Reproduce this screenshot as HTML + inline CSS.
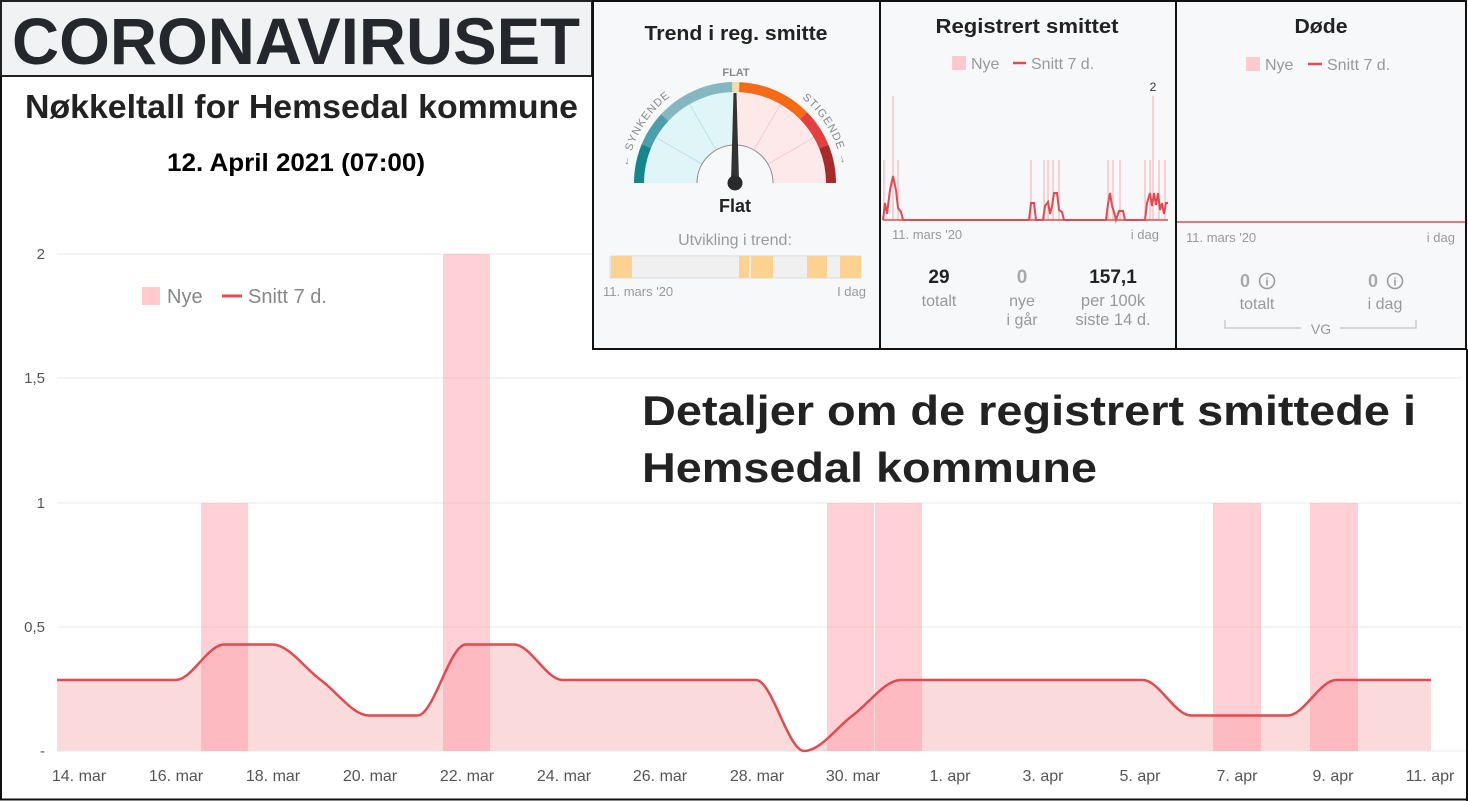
<!DOCTYPE html>
<html><head><meta charset="utf-8"><style>
html,body{margin:0;padding:0;background:#fff}
svg{display:block;font-family:"Liberation Sans",sans-serif}
</style></head><body>
<svg width="1468" height="801" viewBox="0 0 1468 801" xmlns="http://www.w3.org/2000/svg">
<rect x="0" y="0" width="1468" height="801" fill="#fff"/>
<!-- header -->
<rect x="1" y="1" width="591" height="75" fill="#f0f2f4" stroke="#222" stroke-width="2"/>
<text x="12" y="64" font-size="66" font-weight="bold" fill="#24272b" textLength="568" lengthAdjust="spacingAndGlyphs">CORONAVIRUSET</text>
<text x="25" y="118" font-size="33" font-weight="bold" fill="#222" textLength="553" lengthAdjust="spacingAndGlyphs">Nøkkeltall for Hemsedal kommune</text>
<text x="167" y="171" font-size="25" font-weight="bold" fill="#000" textLength="258" lengthAdjust="spacingAndGlyphs">12. April 2021 (07:00)</text>

<!-- main chart grid -->
<g stroke="#e8e8e8" stroke-width="1">
<line x1="57" y1="254" x2="1462" y2="254"/><line x1="57" y1="378" x2="1462" y2="378"/>
<line x1="57" y1="503" x2="1462" y2="503"/><line x1="57" y1="627" x2="1462" y2="627"/>
<line x1="57" y1="751" x2="1465" y2="751"/>
</g>
<g font-size="15" fill="#555" text-anchor="end">
<text x="45" y="259">2</text><text x="45" y="383">1,5</text><text x="45" y="508">1</text><text x="45" y="632">0,5</text><text x="45" y="756">-</text>
</g>
<!-- fill -->
<path d="M57,751 L57,680 L175.7,680 C191.8,680 207.9,644.5 224.05,644.5 L272.4,644.5 C288.5,644.5 304.6,668.2 320.75,680 C336.9,691.8 353,715.5 369.1,715.5 L417.45,715.5 C433.6,715.5 449.7,644.5 465.8,644.5 L514.15,644.5 C530.3,644.5 546.4,680 562.5,680 L755.9,680 C772,680 788.1,751 804.25,751 C820.4,751 836.5,727.3 852.6,715.5 C868.7,703.7 884.8,680 900.95,680 L1142.7,680 C1158.8,680 1174.9,715.5 1191.05,715.5 L1287.75,715.5 C1303.9,715.5 1320,680 1336.1,680 L1431,680 L1431,751 Z" fill="#fbdadb"/>
<!-- bars -->
<g fill="#ff8f9c" fill-opacity="0.42">
<rect x="201" y="503" width="47" height="248"/>
<rect x="443" y="254" width="47" height="497"/>
<rect x="827" y="503" width="47" height="248"/>
<rect x="875" y="503" width="47" height="248"/>
<rect x="1213" y="503" width="48" height="248"/>
<rect x="1310" y="503" width="48" height="248"/>
</g>
<path d="M57,680 L175.7,680 C191.8,680 207.9,644.5 224.05,644.5 L272.4,644.5 C288.5,644.5 304.6,668.2 320.75,680 C336.9,691.8 353,715.5 369.1,715.5 L417.45,715.5 C433.6,715.5 449.7,644.5 465.8,644.5 L514.15,644.5 C530.3,644.5 546.4,680 562.5,680 L755.9,680 C772,680 788.1,751 804.25,751 C820.4,751 836.5,727.3 852.6,715.5 C868.7,703.7 884.8,680 900.95,680 L1142.7,680 C1158.8,680 1174.9,715.5 1191.05,715.5 L1287.75,715.5 C1303.9,715.5 1320,680 1336.1,680 L1431,680" fill="none" stroke="#e24a4f" stroke-width="2.5"/>
<g font-size="16" fill="#555" text-anchor="middle">
<text x="79" y="781">14. mar</text><text x="176" y="781">16. mar</text><text x="273" y="781">18. mar</text><text x="370" y="781">20. mar</text><text x="467" y="781">22. mar</text><text x="564" y="781">24. mar</text><text x="660" y="781">26. mar</text><text x="757" y="781">28. mar</text><text x="853" y="781">30. mar</text><text x="950" y="781">1. apr</text><text x="1043" y="781">3. apr</text><text x="1140" y="781">5. apr</text><text x="1237" y="781">7. apr</text><text x="1333" y="781">9. apr</text><text x="1430" y="781">11. apr</text>
</g>
<!-- legend main -->
<rect x="142" y="287" width="18" height="18" fill="#ffc9ce"/>
<text x="167" y="303" font-size="20" fill="#888">Nye</text>
<line x1="222" y1="296" x2="242" y2="296" stroke="#e24a4f" stroke-width="3"/>
<text x="248" y="303" font-size="20" fill="#888">Snitt 7 d.</text>
<!-- big text -->
<text x="642" y="425" font-size="42" font-weight="bold" fill="#222" textLength="774" lengthAdjust="spacingAndGlyphs">Detaljer om de registrert smittede i</text>
<text x="642" y="482" font-size="42" font-weight="bold" fill="#222" textLength="455" lengthAdjust="spacingAndGlyphs">Hemsedal kommune</text>

<!-- top panels -->
<rect x="593" y="1" width="873" height="348" fill="#f7f8fa" stroke="#111" stroke-width="2"/>
<line x1="880" y1="0" x2="880" y2="349" stroke="#111" stroke-width="2"/>
<line x1="1176" y1="0" x2="1176" y2="349" stroke="#111" stroke-width="2"/>

<!-- panel 1 -->
<text x="736" y="40" font-size="20" font-weight="bold" fill="#222" text-anchor="middle" textLength="183" lengthAdjust="spacingAndGlyphs">Trend i reg. smitte</text>
<path d="M735,183 L644,183 A91,91 0 0 1 735,92 Z" fill="#dff5f8"/>
<path d="M735,183 L826,183 A91,91 0 0 0 735,92 Z" fill="#fde8ea"/>
<g stroke-width="0.8">
<line x1="768" y1="164" x2="814" y2="137.5" stroke="#f5c9cc"/>
<line x1="754" y1="150" x2="780.5" y2="104" stroke="#f5c9cc"/>
<line x1="702" y1="164" x2="656" y2="137.5" stroke="#b8dfe4"/>
<line x1="716" y1="150" x2="689.5" y2="104" stroke="#b8dfe4"/>
</g>
<path d="M697,183 A38,38 0 0 1 773,183" fill="#f7f8fa" stroke="#888" stroke-width="1"/>
<g fill="none" stroke-width="10">
<path d="M639,183 A96,96 0 0 1 831,183" stroke="#15858e" stroke-dasharray="38 1000"/>
<path d="M639,183 A96,96 0 0 1 831,183" stroke="#4c9faa" stroke-dasharray="34 1000" stroke-dashoffset="-38"/>
<path d="M639,183 A96,96 0 0 1 831,183" stroke="#84b7bf" stroke-dasharray="76 1000" stroke-dashoffset="-72"/>
<path d="M639,183 A96,96 0 0 1 831,183" stroke="#fcd9a8" stroke-dasharray="7 1000" stroke-dashoffset="-148"/>
<path d="M639,183 A96,96 0 0 1 831,183" stroke="#f56a16" stroke-dasharray="72 1000" stroke-dashoffset="-155"/>
<path d="M639,183 A96,96 0 0 1 831,183" stroke="#e43f3f" stroke-dasharray="37 1000" stroke-dashoffset="-227"/>
<path d="M639,183 A96,96 0 0 1 831,183" stroke="#a82a2a" stroke-dasharray="40 1000" stroke-dashoffset="-264"/>
</g>
<path id="garc" d="M627,183 A108,108 0 0 1 843,183" fill="none"/>
<text font-size="11" fill="#888" letter-spacing="1"><textPath href="#garc" startOffset="16">← SYNKENDE</textPath></text>
<text font-size="11" fill="#888" letter-spacing="1" text-anchor="end"><textPath href="#garc" startOffset="322">STIGENDE →</textPath></text>
<text x="736" y="76" font-size="11" font-weight="bold" fill="#888" text-anchor="middle">FLAT</text>
<polygon points="731,181 739,181 736.5,93 733.5,93" fill="#333"/>
<circle cx="735" cy="183" r="7.5" fill="#2a2a2a"/>
<text x="735" y="212" font-size="18" font-weight="bold" fill="#222" text-anchor="middle">Flat</text>
<text x="735" y="245" font-size="16" fill="#9a9a9a" text-anchor="middle">Utvikling i trend:</text>
<rect x="610" y="256" width="251" height="22" fill="#f0f0f0" stroke="#ddd"/>
<g fill="#fdd18f">
<rect x="611" y="256" width="21" height="22"/><rect x="739" y="256" width="10" height="22"/><rect x="751" y="256" width="22" height="22"/><rect x="807" y="256" width="20" height="22"/><rect x="840" y="256" width="21" height="22"/>
</g>
<text x="603" y="296" font-size="13" fill="#999">11. mars '20</text>
<text x="866" y="296" font-size="13" fill="#999" text-anchor="end">I dag</text>

<!-- panel 2 -->
<text x="1027" y="33" font-size="20" font-weight="bold" fill="#222" text-anchor="middle" textLength="183" lengthAdjust="spacingAndGlyphs">Registrert smittet</text>
<rect x="952" y="56" width="14" height="14" fill="#ffc9ce"/>
<text x="971" y="69" font-size="16" fill="#999">Nye</text>
<line x1="1013" y1="63" x2="1026" y2="63" stroke="#e24a4f" stroke-width="2.5"/>
<text x="1031" y="69" font-size="16" fill="#999">Snitt 7 d.</text>
<g stroke="#fbc3c8" stroke-width="1.5">
<line x1="884" y1="220" x2="884" y2="160"/><line x1="893" y1="220" x2="893" y2="96"/><line x1="898" y1="220" x2="898" y2="160"/>
<line x1="1031" y1="220" x2="1031" y2="160"/><line x1="1044" y1="220" x2="1044" y2="160"/><line x1="1048" y1="220" x2="1048" y2="160"/><line x1="1053" y1="220" x2="1053" y2="160"/><line x1="1059" y1="220" x2="1059" y2="160"/>
<line x1="1108" y1="220" x2="1108" y2="160"/><line x1="1113" y1="220" x2="1113" y2="160"/><line x1="1120" y1="220" x2="1120" y2="160"/>
<line x1="1145" y1="220" x2="1145" y2="160"/><line x1="1150" y1="220" x2="1150" y2="160"/><line x1="1153" y1="220" x2="1153" y2="96"/><line x1="1159" y1="220" x2="1159" y2="160"/><line x1="1165" y1="220" x2="1165" y2="160"/>
</g>
<text x="1153" y="91" font-size="12" fill="#333" text-anchor="middle">2</text>
<polyline fill="none" stroke="#e24a4f" stroke-width="2" points="883,220 885,203 887,214 890,190 893,176 896,190 898,208 901,212 903,220 1029,220 1031,203 1034,203 1036,220 1043,220 1045,206 1048,202 1050,214 1052,206 1054,193 1057,193 1059,210 1062,212 1064,220 1106,220 1108,204 1110,193 1112,206 1114,212 1116,220 1119,211 1123,211 1125,220 1145,220 1147,203 1150,193 1152,206 1154,193 1156,205 1158,193 1160,210 1162,203 1164,214 1166,203 1168,203"/>
<line x1="883" y1="220" x2="1168" y2="220" stroke="#e24a4f" stroke-width="1.5"/>
<text x="892" y="239" font-size="13" fill="#999">11. mars '20</text>
<text x="1159" y="239" font-size="13" fill="#999" text-anchor="end">i dag</text>
<text x="939" y="283" font-size="19" font-weight="bold" fill="#222" text-anchor="middle">29</text>
<text x="939" y="306" font-size="16" fill="#999" text-anchor="middle">totalt</text>
<text x="1022" y="283" font-size="19" font-weight="bold" fill="#aaa" text-anchor="middle">0</text>
<text x="1022" y="306" font-size="16" fill="#999" text-anchor="middle">nye</text>
<text x="1022" y="325" font-size="16" fill="#999" text-anchor="middle">i går</text>
<text x="1113" y="283" font-size="19" font-weight="bold" fill="#222" text-anchor="middle">157,1</text>
<text x="1113" y="306" font-size="16.5" fill="#999" text-anchor="middle">per 100k</text>
<text x="1113" y="325" font-size="16.5" fill="#999" text-anchor="middle">siste 14 d.</text>

<!-- panel 3 -->
<text x="1321" y="33" font-size="20" font-weight="bold" fill="#222" text-anchor="middle" textLength="53" lengthAdjust="spacingAndGlyphs">Døde</text>
<rect x="1246" y="57" width="14" height="14" fill="#ffc9ce"/>
<text x="1265" y="70" font-size="16" fill="#999">Nye</text>
<line x1="1308" y1="64" x2="1322" y2="64" stroke="#e24a4f" stroke-width="2.5"/>
<text x="1327" y="70" font-size="16" fill="#999">Snitt 7 d.</text>
<line x1="1177" y1="222" x2="1465" y2="222" stroke="#e24a4f" stroke-width="1.5"/>
<text x="1186" y="242" font-size="13" fill="#999">11. mars '20</text>
<text x="1455" y="242" font-size="13" fill="#999" text-anchor="end">i dag</text>
<text x="1245" y="287" font-size="18" font-weight="bold" fill="#aaa" text-anchor="middle">0</text>
<circle cx="1267" cy="281" r="7.5" fill="none" stroke="#999" stroke-width="1.5"/>
<text x="1267" y="285.5" font-size="11" font-weight="bold" fill="#999" text-anchor="middle">i</text>
<text x="1257" y="309" font-size="16" fill="#999" text-anchor="middle">totalt</text>
<text x="1373" y="287" font-size="18" font-weight="bold" fill="#aaa" text-anchor="middle">0</text>
<circle cx="1395" cy="281" r="7.5" fill="none" stroke="#999" stroke-width="1.5"/>
<text x="1395" y="285.5" font-size="11" font-weight="bold" fill="#999" text-anchor="middle">i</text>
<text x="1385" y="309" font-size="16" fill="#999" text-anchor="middle">i dag</text>
<polyline points="1225,320 1225,328 1301,328" fill="none" stroke="#ccc" stroke-width="1.5"/>
<polyline points="1340,328 1416,328 1416,320" fill="none" stroke="#ccc" stroke-width="1.5"/>
<text x="1321" y="334" font-size="14" fill="#999" text-anchor="middle">VG</text>

<!-- outer borders -->
<line x1="1" y1="76" x2="1" y2="800" stroke="#111" stroke-width="2"/>
<line x1="0" y1="799.5" x2="1468" y2="799.5" stroke="#111" stroke-width="2"/>
<line x1="1467" y1="349" x2="1467" y2="801" stroke="#111" stroke-width="2"/>
<line x1="593" y1="76" x2="593" y2="349" stroke="#111" stroke-width="2"/>
</svg>
</body></html>
